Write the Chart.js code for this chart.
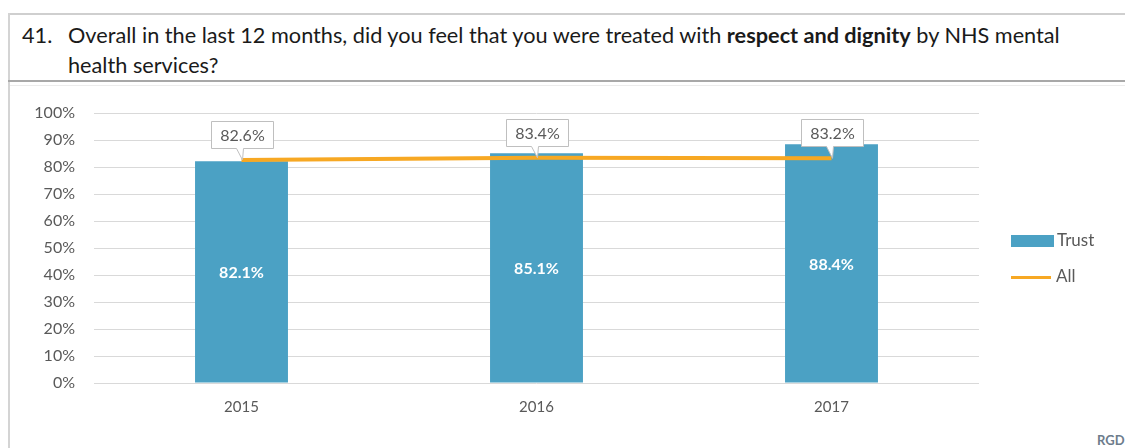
<!DOCTYPE html>
<html>
<head>
<meta charset="utf-8">
<script src="https://cdn.jsdelivr.net/npm/chart.js@4.4.1/dist/chart.umd.min.js"></script>
<style>
  html, body { margin: 0; padding: 0; background: #fff; }
  body { width: 1125px; height: 448px; position: relative; overflow: hidden; font-family: Lato, sans-serif; }
  .frame-top { position: absolute; left: 8px; top: 13px; width: 1125px; height: 2px; background: #cfcfcf; border-top-left-radius: 3px; }
  .frame-left { position: absolute; left: 8px; top: 13px; width: 2px; height: 440px; background: #d4d4d4; }
  .sep { position: absolute; left: 8px; top: 80px; width: 1125px; height: 2px; background: #a8a8a8; }
  .sep2 { position: absolute; left: 10px; top: 85px; width: 1125px; height: 1px; background: #ececec; }
  .title { position: absolute; left: 22px; top: 20px; font-size: 21.7px; line-height: 30px; color: #1a1a1a; white-space: nowrap; }
  .title .num { display: inline-block; width: 46px; }
  .title .l2 { padding-left: 46px; }
  .tag { position: absolute; left: 1097px; top: 432px; font-size: 13px; font-weight: bold; color: #6d7c8c; }
  #chart { position: absolute; left: 0; top: 0; }
</style>
</head>
<body>
<div class="frame-top"></div>
<div class="frame-left"></div>
<div class="sep"></div>
<div class="sep2"></div>
<div class="title"><span class="num">41.</span>Overall in the last 12 months, did you feel that you were treated with <b>respect and dignity</b> by NHS mental<br><span class="l2">health services?</span></div>
<div class="tag">RGD</div>
<canvas id="chart" width="1125" height="448"></canvas>
<script>
const years = ['2015', '2016', '2017'];
const trustValues = [82.1, 85.1, 88.4];
const allValues = [82.6, 83.4, 83.2];
const yTicks = [0, 10, 20, 30, 40, 50, 60, 70, 80, 90, 100];

const textGrey = '#595959';
const trustColour = '#4BA1C4';
const allColour = '#F7A823';

// white value inside each bar, centred vertically
const barLabels = {
  id: 'barLabels',
  afterDatasetsDraw(chart) {
    const ctx = chart.ctx;
    const meta = chart.getDatasetMeta(0);
    ctx.save();
    ctx.font = 'bold 16px Lato';
    ctx.fillStyle = '#ffffff';
    ctx.textAlign = 'center';
    ctx.textBaseline = 'middle';
    meta.data.forEach((bar, i) => {
      const mid = (bar.y + bar.base) / 2;
      ctx.fillText(trustValues[i].toFixed(1) + '%', bar.x, mid + 1);
    });
    ctx.restore();
  }
};

// callout boxes above the line points
const calloutLabels = {
  id: 'calloutLabels',
  afterDatasetsDraw(chart) {
    const ctx = chart.ctx;
    const meta = chart.getDatasetMeta(1);
    const w = 62, h = 27, gap = 12;
    ctx.save();
    ctx.font = '16px Lato';
    ctx.textAlign = 'center';
    ctx.textBaseline = 'middle';
    meta.data.forEach((pt, i) => {
      const x = Math.round(pt.x) + 0.5;
      const bottom = Math.round(pt.y - gap) + 0.5;
      const left = x - w / 2, top = bottom - h;
      ctx.beginPath();
      ctx.moveTo(left, top);
      ctx.lineTo(left + w, top);
      ctx.lineTo(left + w, bottom);
      ctx.lineTo(x + 1, bottom);
      ctx.lineTo(x, pt.y);
      ctx.lineTo(x - 6, bottom);
      ctx.lineTo(left, bottom);
      ctx.closePath();
      ctx.fillStyle = '#ffffff';
      ctx.fill();
      ctx.strokeStyle = '#bfbfbf';
      ctx.lineWidth = 1;
      ctx.stroke();
      ctx.fillStyle = textGrey;
      ctx.fillText(allValues[i].toFixed(1) + '%', x, top + h / 2 + 1);
    });
    ctx.restore();
  }
};

// legend at the right of the plot
const sideLegend = {
  id: 'sideLegend',
  afterDraw(chart) {
    const ctx = chart.ctx;
    ctx.save();
    ctx.font = '17px Lato';
    ctx.textBaseline = 'middle';
    ctx.fillStyle = chart.data.datasets[0].backgroundColor;
    ctx.fillRect(1011, 235, 43, 12);
    ctx.strokeStyle = chart.data.datasets[1].borderColor;
    ctx.lineWidth = 3;
    ctx.beginPath();
    ctx.moveTo(1011, 277.5);
    ctx.lineTo(1051, 277.5);
    ctx.stroke();
    ctx.fillStyle = textGrey;
    ctx.fillText(chart.data.datasets[0].label, 1057, 241);
    ctx.fillText(chart.data.datasets[1].label, 1056, 277);
    ctx.restore();
  }
};

new Chart(document.getElementById('chart'), {
  data: {
    labels: years,
    datasets: [
      {
        type: 'bar',
        label: 'Trust',
        data: trustValues,
        backgroundColor: trustColour,
        categoryPercentage: 1,
        barPercentage: 0.315,
        order: 1
      },
      {
        type: 'line',
        label: 'All',
        data: allValues,
        borderColor: allColour,
        borderWidth: 4,
        pointRadius: 0,
        tension: 0,
        order: 0
      }
    ]
  },
  options: {
    responsive: false,
    devicePixelRatio: 1,
    animation: false,
    layout: { padding: { left: 0, right: 146, top: 113, bottom: 0 } },
    plugins: { legend: { display: false }, tooltip: { enabled: false } },
    scales: {
      x: {
        grid: { display: false },
        border: { display: false },
        ticks: { color: textGrey, font: { family: 'Lato', size: 15 }, padding: 7 },
        afterFit(scale) { scale.height = 65; }
      },
      y: {
        min: 0,
        max: 100,
        afterBuildTicks(scale) { scale.ticks = yTicks.map(v => ({ value: v })); },
        grid: { color: '#d9d9d9', lineWidth: 1, drawTicks: false },
        border: { display: false },
        ticks: {
          color: textGrey,
          font: { family: 'Lato', size: 16 },
          padding: 19,
          callback: v => v + '%'
        },
        afterFit(scale) { scale.width = 94; }
      }
    }
  },
  plugins: [barLabels, calloutLabels, sideLegend]
});
</script>
</body>
</html>
